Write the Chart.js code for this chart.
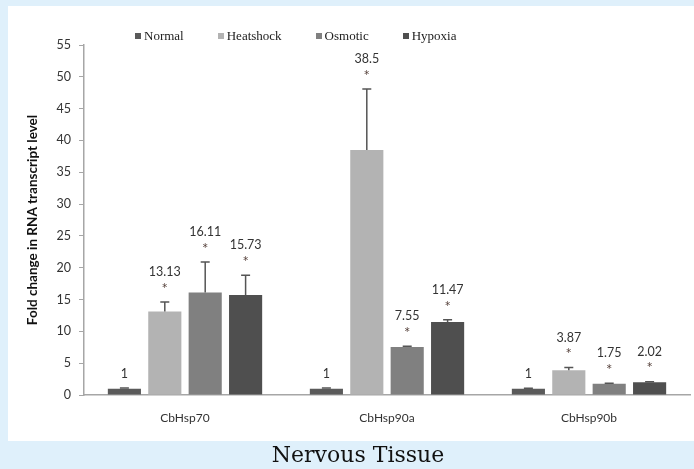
<!DOCTYPE html>
<html>
<head>
<meta charset="utf-8">
<script src="https://cdn.jsdelivr.net/npm/chart.js@4.4.1/dist/chart.umd.min.js"></script>
<style>
  html, body { margin: 0; padding: 0; }
  body { width: 694px; height: 469px; background: #dff0fb; position: relative; overflow: hidden; }
  #panel { position: absolute; left: 8px; top: 6px; width: 686px; height: 435px; background: #fff; }
  #wrap { position: absolute; left: 0; top: 0; width: 694px; height: 469px; }
  #legend { position: absolute; left: 135px; top: 28px; display: flex; font-family: "Liberation Serif", serif; font-size: 13px; color: #222; }
  #legend span.item { display: flex; align-items: center; margin-right: 34px; }
  #legend span.box { width: 6px; height: 6px; margin-right: 3px; display: inline-block; }
  #caption { position: absolute; left: 11px; width: 694px; top: 442px; text-align: center; font-family: "DejaVu Serif", serif; font-size: 22px; color: #111; }
</style>
</head>
<body>
<div id="panel"></div>
<div id="wrap"><canvas id="chart" width="694" height="469"></canvas></div>
<div id="legend"></div>
<div id="caption">Nervous Tissue</div>
<script>
// ---- data ----
const genes = ['CbHsp70', 'CbHsp90a', 'CbHsp90b'];
const seriesNames = ['Normal', 'Heatshock', 'Osmotic', 'Hypoxia'];
const seriesColors = ['#5a5a5a', '#b3b3b3', '#808080', '#4f4f4f'];

const normal = [1, 1, 1];
const heatshock = [13.13, 38.5, 3.87];
const osmotic = [16.11, 7.55, 1.75];
const hypoxia = [15.73, 11.47, 2.02];

// upper error bar length (fold change units)
const normalErr = [0.1, 0.1, 0.05];
const heatshockErr = [1.5, 9.6, 0.45];
const osmoticErr = [4.8, 0.12, 0.1];
const hypoxiaErr = [3.1, 0.35, 0.08];

const starred = [false, true, true, true];

const yTicks = [0, 5, 10, 15, 20, 25, 30, 35, 40, 45, 50, 55];

const values = [normal, heatshock, osmotic, hypoxia];
const errors = [normalErr, heatshockErr, osmoticErr, hypoxiaErr];

// ---- legend (html) ----
const legendEl = document.getElementById('legend');
legendEl.innerHTML = seriesNames.map((n, i) =>
  `<span class="item"><span class="box" style="background:${seriesColors[i]}"></span>${n}</span>`
).join('');

// ---- error bars + labels ----
const errorBarPlugin = {
  id: 'errorBars',
  afterDatasetsDraw(chart) {
    const ctx = chart.ctx;
    const y = chart.scales.y;
    ctx.save();
    chart.data.datasets.forEach((ds, di) => {
      const meta = chart.getDatasetMeta(di);
      meta.data.forEach((bar, i) => {
        const v = ds.data[i];
        const top = y.getPixelForValue(v + errors[di][i]);
        // error bar
        ctx.strokeStyle = '#555';
        ctx.lineWidth = 1.5;
        ctx.beginPath();
        ctx.moveTo(bar.x, bar.y);
        ctx.lineTo(bar.x, top);
        ctx.moveTo(bar.x - 4.5, top);
        ctx.lineTo(bar.x + 4.5, top);
        ctx.stroke();
        // value + star
        ctx.textAlign = 'center';
        ctx.textBaseline = 'middle';
        ctx.font = '12.5px Lato';
        ctx.fillStyle = '#333';
        if (starred[di]) {
          ctx.fillText(String(v), bar.x, top - 30);
          ctx.font = '15px Lato';
          ctx.fillStyle = '#5a4640';
          ctx.fillText('*', bar.x, top - 13);
        } else {
          ctx.fillText(String(v), bar.x, top - 14);
        }
      });
    });
    ctx.restore();
  }
};

new Chart(document.getElementById('chart'), {
  type: 'bar',
  data: {
    labels: genes,
    datasets: seriesNames.map((n, i) => ({
      label: n,
      data: values[i],
      backgroundColor: seriesColors[i],
      categoryPercentage: 0.8,
      barPercentage: 0.82
    }))
  },
  options: {
    responsive: false,
    animation: false,
    layout: { padding: { left: 0, right: 4, top: 45, bottom: 0 } },
    plugins: {
      legend: { display: false },
      tooltip: { enabled: false }
    },
    scales: {
      x: {
        grid: { display: false, drawTicks: false },
        border: { color: '#a6a6a6', width: 1.5 },
        ticks: { color: '#333', font: { family: 'Lato', size: 12 }, padding: 16 },
        afterFit: s => { s.height = 74; }
      },
      y: {
        min: 0,
        max: 55,
        afterBuildTicks: s => { s.ticks = yTicks.map(v => ({ value: v })); },
        grid: { drawOnChartArea: false, drawTicks: true, tickLength: 5, color: '#a6a6a6' },
        border: { color: '#a6a6a6', width: 1.5 },
        ticks: { color: '#333', font: { family: 'Lato', size: 12.5 }, padding: 8 },
        title: {
          display: true,
          text: 'Fold change in RNA transcript level',
          color: '#111',
          font: { family: 'Lato', size: 13.5, weight: 'bold' },
          padding: { top: 25, bottom: 0 }
        },
        afterFit: s => { s.width = 84; }
      }
    }
  },
  plugins: [errorBarPlugin]
});
</script>
</body>
</html>
